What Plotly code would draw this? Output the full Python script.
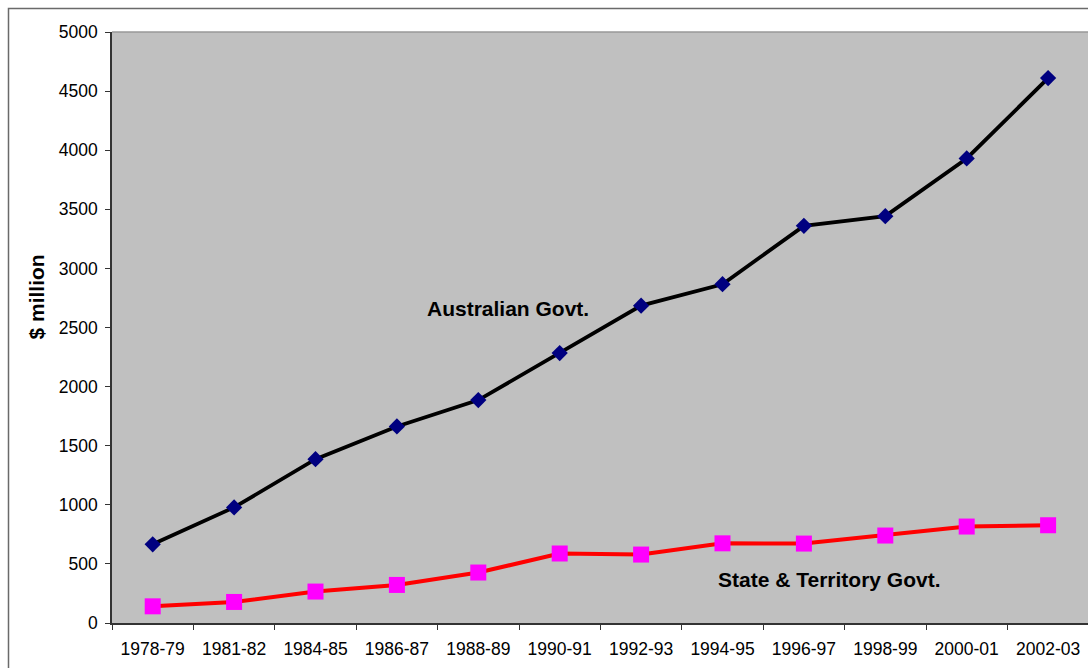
import plotly.graph_objects as go

# Financial years on the category axis
years = ["1978-79", "1981-82", "1984-85", "1986-87", "1988-89", "1990-91",
         "1992-93", "1994-95", "1996-97", "1998-99", "2000-01", "2002-03"]

# Expenditure, $ million
australian_govt = [666, 978, 1386, 1663, 1886, 2284, 2685, 2866, 3360, 3442, 3930, 4610]
state_territory_govt = [141, 178, 266, 322, 427, 588, 579, 674, 672, 740, 816, 827]

y_ticks = list(range(0, 5001, 500))

FONT = "Liberation Sans, Arial, sans-serif"

W, H = 1088, 668
ML, MR, MT, MB = 112, 0, 32, 45
plot_w = W - ML - MR
plot_h = H - MT - MB
cat_px = 81.4  # width of one category slot in pixels

fig = go.Figure()

fig.add_trace(go.Scatter(
    x=years, y=state_territory_govt, mode="lines+markers",
    name="State & Territory Govt.",
    line=dict(color="#FF0000", width=4),
    marker=dict(symbol="square", size=16, color="#FF00FF",
                line=dict(width=0)),
))

fig.add_trace(go.Scatter(
    x=years, y=australian_govt, mode="lines+markers",
    name="Australian Govt.",
    line=dict(color="#000000", width=3.8),
    marker=dict(symbol="diamond", size=12.5, color="#000080",
                line=dict(width=0)),
))

# series labels placed beside the lines
fig.add_annotation(x=4.36, y=2665, xref="x", yref="y", text="<b>Australian Govt.</b>",
                   showarrow=False, xanchor="center", yanchor="middle",
                   font=dict(family=FONT, size=21, color="#000000"))
fig.add_annotation(x=8.32, y=370, xref="x", yref="y", text="<b>State & Territory Govt.</b>",
                   showarrow=False, xanchor="center", yanchor="middle",
                   font=dict(family=FONT, size=21, color="#000000"))

# vertical axis title
fig.add_annotation(x=(36 - ML) / plot_w, y=(H - MB - 297.5) / plot_h, xref="paper", yref="paper",
                   text="<b>$ million</b>", textangle=-90, showarrow=False,
                   xanchor="center", yanchor="middle",
                   font=dict(family=FONT, size=21, color="#000000"))

# outer chart frame
fig.add_shape(type="rect", xref="paper", yref="paper",
              x0=(8.5 - ML) / plot_w, x1=(W + 20 - ML) / plot_w,
              y0=(H - MB - (H + 20)) / plot_h, y1=(H - MB - 8.5) / plot_h,
              line=dict(color="#6a6a6a", width=1.5), layer="below")

# top edge of the plot area
fig.add_shape(type="line", xref="paper", yref="paper", x0=0, x1=1, y0=1, y1=1,
              line=dict(color="#999999", width=1.5))

fig.update_layout(
    width=W, height=H,
    margin=dict(l=ML, r=MR, t=MT, b=MB, pad=0),
    paper_bgcolor="#FFFFFF",
    plot_bgcolor="#C0C0C0",
    showlegend=False,
    font=dict(family=FONT, size=17.5, color="#000000"),
)

fig.update_xaxes(
    type="category",
    range=[-0.5, -0.5 + plot_w / cat_px],
    tickson="boundaries",
    ticks="outside", ticklen=5, tickcolor="#333333", tickwidth=1.2,
    showline=True, linecolor="#333333", linewidth=1.5,
    showgrid=False, zeroline=False,
    ticklabelstandoff=9,
    tickfont=dict(family=FONT, size=17.5, color="#000000"),
)

fig.update_yaxes(
    range=[0, 5000],
    tickvals=y_ticks,
    ticks="outside", ticklen=5, tickcolor="#333333", tickwidth=1.2,
    showline=True, linecolor="#333333", linewidth=1.5,
    showgrid=False, zeroline=False,
    ticklabelstandoff=4,
    tickfont=dict(family=FONT, size=17.5, color="#000000"),
)

fig.write_html("out.html")
